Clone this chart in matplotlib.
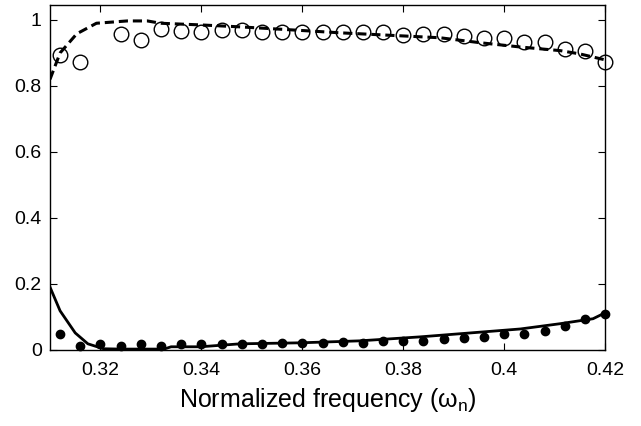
import numpy as np
import matplotlib
matplotlib.use('Agg')
import matplotlib.pyplot as plt

plt.rcParams['font.family'] = ['Liberation Sans', 'DejaVu Sans']

# measured transmission (open circles)
x_open = [0.312, 0.316, 0.324, 0.328, 0.332, 0.336, 0.340, 0.344, 0.348, 0.352,
          0.356, 0.360, 0.364, 0.368, 0.372, 0.376, 0.380, 0.384, 0.388, 0.392,
          0.396, 0.400, 0.404, 0.408, 0.412, 0.416, 0.420]
y_open = [0.894, 0.873, 0.958, 0.940, 0.973, 0.967, 0.964, 0.970, 0.970, 0.964,
          0.964, 0.964, 0.964, 0.964, 0.964, 0.964, 0.955, 0.958, 0.958, 0.952,
          0.946, 0.946, 0.934, 0.934, 0.912, 0.906, 0.873]

# measured reflection (filled dots)
x_dot = [0.312, 0.316, 0.320, 0.324, 0.328, 0.332, 0.336, 0.340, 0.344, 0.348,
         0.352, 0.356, 0.360, 0.364, 0.368, 0.372, 0.376, 0.380, 0.384, 0.388,
         0.392, 0.396, 0.400, 0.404, 0.408, 0.412, 0.416, 0.420]
y_dot = [0.048, 0.012, 0.018, 0.012, 0.018, 0.012, 0.018, 0.018, 0.018, 0.018,
         0.018, 0.021, 0.021, 0.021, 0.024, 0.021, 0.027, 0.027, 0.027, 0.033,
         0.036, 0.039, 0.048, 0.048, 0.057, 0.073, 0.094, 0.109]

# theory curves
x_T = [0.310, 0.312, 0.3153, 0.3192, 0.3253, 0.3293, 0.3319, 0.3398,
       0.3477, 0.3556, 0.3675, 0.3754, 0.3873, 0.3952, 0.4032, 0.4111, 0.4150, 0.4200]
y_T = [0.82, 0.90, 0.958, 0.99, 0.997, 0.997, 0.99, 0.985,
       0.979, 0.972, 0.961, 0.955, 0.946, 0.931, 0.918, 0.907, 0.897, 0.879]

x_R = [0.310, 0.312, 0.315, 0.3175, 0.3206, 0.324, 0.3326, 0.334, 0.3398, 0.3477,
       0.3596, 0.3714, 0.3833, 0.3933, 0.4032, 0.4111, 0.4176, 0.4200]
y_R = [0.19, 0.118, 0.051, 0.018, 0.003, 0.002, 0.002, 0.009, 0.009, 0.018,
       0.021, 0.027, 0.039, 0.051, 0.063, 0.079, 0.094, 0.112]

fig = plt.figure(figsize=(6.41, 4.26), dpi=100)
ax = fig.add_axes([0.078, 0.179, 0.866, 0.809])

ax.plot(x_T, y_T, color='black', lw=2.2, dashes=(3, 1.6))
ax.plot(x_R, y_R, color='black', lw=2.0)
ax.plot(x_open, y_open, 'o', mfc='none', mec='black', mew=1.0, ms=10.5, clip_on=False)
ax.plot(x_dot, y_dot, 'o', color='black', ms=6, clip_on=False)

ax.set_xlim(0.31, 0.42)
ax.set_ylim(0, 1.045)
ax.set_xticks([0.32, 0.34, 0.36, 0.38, 0.40, 0.42])
ax.set_xticklabels(['0.32', '0.34', '0.36', '0.38', '0.4', '0.42'])
ax.set_yticks([0, 0.2, 0.4, 0.6, 0.8, 1.0])
ax.set_yticklabels(['0', '0.2', '0.4', '0.6', '0.8', '1'])
ax.tick_params(direction='in', top=True, right=True, labelsize=14, length=5, width=0.8)
ax.tick_params(axis='x', pad=9)
ax.tick_params(axis='y', pad=6)
for s in ax.spines.values():
    s.set_linewidth(1.0)

ax.set_xlabel(r'Normalized frequency ($\mathregular{\omega_n}$)', fontsize=18, labelpad=5)

fig.savefig('out.png', dpi=100)
